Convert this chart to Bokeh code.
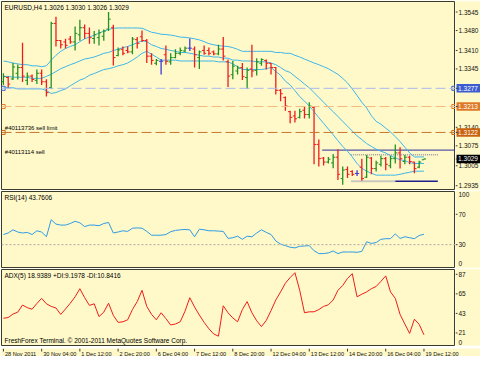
from bokeh.plotting import figure
from bokeh.layouts import column, row
from bokeh.models import ColumnDataSource, Range1d, Span, Label
from bokeh.core.properties import value
from bokeh.embed import file_html
from bokeh.resources import INLINE

# ---------------- data ----------------
TITLE_MAIN = "EURUSD,H4  1.3026 1.3030 1.3026 1.3029"
TITLE_RSI = "RSI(14) 43.7606"
TITLE_ADX = "ADX(5) 18.9389 +DI:9.1978 -DI:10.8416"
COPYRIGHT = "FreshForex Terminal. \u00a9 2001-2011 MetaQuotes Software Corp."

OPEN = [1.3300, 1.3315, 1.3310, 1.3330, 1.3350, 1.3305, 1.3320, 1.3305, 1.3330, 1.3300,
        1.3280, 1.3505, 1.3445, 1.3440, 1.3450, 1.3440, 1.3465, 1.3490, 1.3470, 1.3452,
        1.3455, 1.3460, 1.3485, 1.3490, 1.3392, 1.3414, 1.3410, 1.3405, 1.3448, 1.3458,
        1.3445, 1.3390, 1.3365, 1.3372, 1.3395, 1.3370, 1.3385, 1.3400, 1.3408, 1.3418,
        1.3415, 1.3385, 1.3410, 1.3410, 1.3405, 1.3398, 1.3415, 1.3370, 1.3325, 1.3338,
        1.3350, 1.3315, 1.3345, 1.3340, 1.3365, 1.3375, 1.3365, 1.3350, 1.3270, 1.3245,
        1.3195, 1.3180, 1.3175, 1.3200, 1.3185, 1.3210, 1.3080, 1.3032, 1.3018, 1.3015,
        1.3035, 1.2960, 1.2992, 1.2985, 1.2978, 1.3000, 1.2965, 1.3032, 1.2995, 1.3010,
        1.3030, 1.3005, 1.3030, 1.3050, 1.3020, 1.3035, 1.3018, 1.3000, 1.3026]
HIGH = [1.3330, 1.3319, 1.3366, 1.3361, 1.3437, 1.3333, 1.3326, 1.3343, 1.3343, 1.3309,
        1.3511, 1.3528, 1.3447, 1.3451, 1.3461, 1.3494, 1.3518, 1.3501, 1.3491, 1.3478,
        1.3484, 1.3484, 1.3545, 1.3500, 1.3420, 1.3424, 1.3424, 1.3457, 1.3457, 1.3480,
        1.3450, 1.3400, 1.3380, 1.3380, 1.3427, 1.3400, 1.3414, 1.3420, 1.3424, 1.3452,
        1.3424, 1.3410, 1.3427, 1.3420, 1.3410, 1.3430, 1.3457, 1.3378, 1.3373, 1.3356,
        1.3366, 1.3350, 1.3430, 1.3383, 1.3383, 1.3378, 1.3366, 1.3352, 1.3275, 1.3248,
        1.3198, 1.3198, 1.3205, 1.3215, 1.3228, 1.3215, 1.3097, 1.3036, 1.3036, 1.3046,
        1.3063, 1.3002, 1.3002, 1.2989, 1.2989, 1.3030, 1.3043, 1.3036, 1.3023, 1.3040,
        1.3036, 1.3040, 1.3080, 1.3070, 1.3043, 1.3040, 1.3019, 1.3023, 1.3030]
LOW = [1.3289, 1.3279, 1.3306, 1.3308, 1.3299, 1.3289, 1.3299, 1.3292, 1.3289, 1.3248,
       1.3275, 1.3424, 1.3417, 1.3417, 1.3434, 1.3410, 1.3444, 1.3451, 1.3434, 1.3434,
       1.3427, 1.3444, 1.3478, 1.3357, 1.3390, 1.3393, 1.3400, 1.3397, 1.3417, 1.3440,
       1.3366, 1.3360, 1.3358, 1.3326, 1.3360, 1.3360, 1.3383, 1.3393, 1.3404, 1.3408,
       1.3350, 1.3345, 1.3395, 1.3393, 1.3393, 1.3393, 1.3375, 1.3282, 1.3309, 1.3326,
       1.3306, 1.3275, 1.3316, 1.3322, 1.3356, 1.3343, 1.3326, 1.3255, 1.3232, 1.3198,
       1.3154, 1.3157, 1.3171, 1.3171, 1.3171, 1.3010, 1.3002, 1.3006, 1.3013, 1.2996,
       1.2955, 1.2938, 1.2962, 1.2969, 1.2969, 1.2952, 1.2962, 1.2975, 1.2985, 1.3002,
       1.2989, 1.2996, 1.3013, 1.2995, 1.3010, 1.3010, 1.2979, 1.2996, 1.3026]
CLOSE = [1.3318, 1.3292, 1.3352, 1.3350, 1.3320, 1.3320, 1.3308, 1.3330, 1.3300, 1.3262,
         1.3505, 1.3445, 1.3430, 1.3428, 1.3440, 1.3470, 1.3490, 1.3470, 1.3455, 1.3465,
         1.3472, 1.3478, 1.3520, 1.3385, 1.3412, 1.3400, 1.3405, 1.3450, 1.3435, 1.3445,
         1.3390, 1.3375, 1.3375, 1.3372, 1.3372, 1.3385, 1.3400, 1.3410, 1.3418, 1.3418,
         1.3395, 1.3405, 1.3400, 1.3400, 1.3398, 1.3415, 1.3390, 1.3320, 1.3355, 1.3348,
         1.3318, 1.3340, 1.3338, 1.3370, 1.3378, 1.3365, 1.3350, 1.3270, 1.3258, 1.3215,
         1.3175, 1.3170, 1.3195, 1.3185, 1.3215, 1.3080, 1.3030, 1.3018, 1.3028, 1.3035,
         1.2975, 1.2990, 1.2975, 1.2975, 1.2978, 1.2960, 1.3035, 1.2995, 1.3015, 1.3030,
         1.3010, 1.3030, 1.3050, 1.3030, 1.3035, 1.3020, 1.2995, 1.3018, 1.3029]

BB_UPPER = [1.3373, 1.3370, 1.3366, 1.3363, 1.3360, 1.3360, 1.3356, 1.3356, 1.3353, 1.3356,
            1.3376, 1.3393, 1.3407, 1.3417, 1.3424, 1.3430, 1.3441, 1.3451, 1.3457, 1.3464,
            1.3471, 1.3478, 1.3484, 1.3488, 1.3489, 1.3489, 1.3489, 1.3489, 1.3489, 1.3488,
            1.3481, 1.3474, 1.3471, 1.3467, 1.3466, 1.3464, 1.3461, 1.3457, 1.3456, 1.3454,
            1.3451, 1.3447, 1.3441, 1.3434, 1.3430, 1.3427, 1.3425, 1.3424, 1.3420, 1.3414,
            1.3407, 1.3407, 1.3407, 1.3407, 1.3407, 1.3407, 1.3407, 1.3403, 1.3403, 1.3400,
            1.3400, 1.3393, 1.3387, 1.3380, 1.3373, 1.3366, 1.3360, 1.3353, 1.3346, 1.3336,
            1.3326, 1.3312, 1.3296, 1.3275, 1.3252, 1.3228, 1.3208, 1.3181, 1.3161, 1.3151,
            1.3137, 1.3124, 1.3107, 1.3090, 1.3070, 1.3050, 1.3036, 1.3036, 1.3036]
BB_MIDDLE = [1.3319, 1.3319, 1.3316, 1.3316, 1.3316, 1.3316, 1.3312, 1.3312, 1.3312, 1.3319,
             1.3326, 1.3336, 1.3346, 1.3353, 1.3360, 1.3366, 1.3373, 1.3380, 1.3383, 1.3387,
             1.3393, 1.3400, 1.3403, 1.3410, 1.3414, 1.3420, 1.3424, 1.3430, 1.3437, 1.3444,
             1.3441, 1.3430, 1.3424, 1.3417, 1.3414, 1.3410, 1.3407, 1.3403, 1.3403, 1.3400,
             1.3397, 1.3393, 1.3390, 1.3390, 1.3387, 1.3387, 1.3383, 1.3383, 1.3376, 1.3376,
             1.3373, 1.3373, 1.3373, 1.3370, 1.3370, 1.3370, 1.3366, 1.3360, 1.3350, 1.3339,
             1.3333, 1.3319, 1.3306, 1.3292, 1.3279, 1.3262, 1.3245, 1.3228, 1.3211, 1.3195,
             1.3178, 1.3161, 1.3144, 1.3127, 1.3110, 1.3097, 1.3083, 1.3073, 1.3063, 1.3056,
             1.3050, 1.3040, 1.3033, 1.3026, 1.3023, 1.3016, 1.3013, 1.3013, 1.3013]
BB_LOWER = [1.3282, 1.3279, 1.3279, 1.3275, 1.3275, 1.3275, 1.3275, 1.3275, 1.3275, 1.3269,
            1.3259, 1.3262, 1.3269, 1.3275, 1.3286, 1.3296, 1.3306, 1.3312, 1.3323, 1.3329,
            1.3336, 1.3343, 1.3346, 1.3350, 1.3356, 1.3360, 1.3366, 1.3376, 1.3387, 1.3400,
            1.3407, 1.3397, 1.3387, 1.3376, 1.3376, 1.3376, 1.3376, 1.3373, 1.3373, 1.3373,
            1.3373, 1.3373, 1.3373, 1.3373, 1.3373, 1.3370, 1.3370, 1.3370, 1.3363, 1.3353,
            1.3343, 1.3343, 1.3343, 1.3343, 1.3343, 1.3346, 1.3350, 1.3336, 1.3323, 1.3302,
            1.3289, 1.3269, 1.3248, 1.3232, 1.3215, 1.3195, 1.3174, 1.3154, 1.3134, 1.3114,
            1.3093, 1.3073, 1.3056, 1.3036, 1.3013, 1.2996, 1.2986, 1.2979, 1.2972, 1.2972,
            1.2972, 1.2972, 1.2972, 1.2975, 1.2979, 1.2982, 1.2986, 1.2986, 1.2986]

RSI = [43.4, 45.4, 49.6, 46.7, 45.4, 46.2, 43.4, 48.3, 46.7, 40.4,
       62.9, 57.1, 55.8, 55.8, 57.9, 60.8, 58.8, 53.8, 55.8, 55.8,
       55.0, 57.9, 59.2, 45.4, 46.7, 48.3, 47.5, 51.7, 52.1, 51.7,
       47.5, 42.5, 42.5, 42.5, 43.4, 47.1, 48.8, 49.6, 50.0, 49.6,
       40.4, 50.4, 49.6, 48.3, 48.3, 47.9, 47.5, 38.3, 39.2, 41.2,
       37.1, 41.2, 40.4, 45.4, 49.6, 46.2, 43.4, 35.0, 30.8, 28.8,
       26.7, 25.8, 27.9, 28.3, 28.8, 22.1, 18.3, 18.3, 19.2, 21.7,
       18.3, 20.4, 20.4, 20.4, 20.0, 21.2, 33.8, 31.7, 32.9, 37.1,
       37.9, 37.9, 44.2, 38.3, 40.4, 39.2, 37.9, 42.1, 43.76]
ADX = [37.6, 38.3, 42.3, 44.4, 52.4, 49.5, 47.7, 54.2, 59.9, 53.8,
       50.9, 49.1, 41.9, 48.0, 54.5, 61.7, 70.8, 60.7, 52.0, 53.8,
       39.4, 44.4, 54.5, 40.8, 32.9, 33.6, 35.8, 47.3, 56.3, 69.0,
       50.9, 41.9, 35.8, 43.7, 37.2, 30.0, 31.1, 33.6, 45.5, 60.7,
       50.2, 41.2, 32.9, 25.7, 19.9, 17.4, 51.6, 43.7, 37.9, 33.6,
       47.3, 56.3, 43.7, 34.7, 28.2, 35.1, 46.2, 58.1, 67.2, 76.9,
       83.4, 88.8, 69.0, 43.7, 44.8, 44.8, 47.3, 50.9, 52.7, 58.1,
       69.0, 74.4, 82.3, 87.7, 61.7, 64.6, 67.2, 70.8, 73.3, 79.1,
       85.2, 67.2, 59.9, 41.9, 31.1, 20.5, 36.5, 30.7, 18.94]

TICK_IDX = [0, 8, 16, 24, 32, 40, 48, 56, 64, 72, 80, 88]
TICK_LABELS = ["28 Nov 2011", "30 Nov 04:00", "1 Dec 12:00", "2 Dec 20:00", "6 Dec 04:00",
               "7 Dec 12:00", "8 Dec 20:00", "12 Dec 04:00", "13 Dec 12:00", "14 Dec 20:00",
               "16 Dec 04:00", "19 Dec 12:00"]
PRICE_TICKS = [1.2935, 1.3005, 1.3075, 1.3140, 1.3345, 1.3410, 1.3480, 1.3545]
RSI_TICKS = [30, 70]
RSI_EDGE_LABELS = ["100", "0"]
ADX_TICKS = [21, 43, 65, 87]
ADX_EDGE_LABELS = ["0"]

# order / object levels
LEVEL_PRICES = [1.3277, 1.3213, 1.3122]
LEVEL_LINE_COLORS = ["#A9B9EE", "#F3B97E", "#C9742E"]
LEVEL_BOX_COLORS = ["#3A5CCF", "#DE7A26", "#C8620E"]
LAST_PRICE = 1.3029
ORDER_TEXTS = ["#40113736 sell limit", "#40113114 sell"]
ORDER_TEXT_PRICES = [1.3127, 1.3042]
TREND_LEVEL, TREND_FROM = 1.3060, 66.7
BOX_FROM, BOX_SPLIT, BOX_TO = 72.7, 82.0, 90.9
BOX_TOP, BOX_BOTTOM = 1.3044, 1.2951

# ---------------- style ----------------
BG = "#FFF9C9"
FRAME = "#3b3b2e"
FONT = "Liberation Sans"
FS = "6.5px"
FS_TIME = "5.6px"
W = 480
PW = 455          # pane width (1px left border + 454 frame)
SW = W - PW       # right scale strip width
UP, DOWN, DOJI = "#23911F", "#EE1C1C", "#3A3AD8"
BAND = "#3DB6EA"

N = len(CLOSE)
IDX = list(range(N))
X0, X1 = -0.4, 94.6
xr = Range1d(X0, X1)


def base(width, height, xrange, yrange, left=0, top=1, bottom=1):
    p = figure(width=width, height=height, x_range=xrange, y_range=yrange,
               output_backend="svg", toolbar_location=None,
               x_axis_location=None, y_axis_location=None,
               min_border_left=left, min_border_right=0,
               min_border_top=top, min_border_bottom=bottom)
    p.background_fill_color = BG
    p.border_fill_color = BG
    p.grid.visible = False
    return p


def pane(h, yr, bottom=1):
    p = base(PW, h, xr, yr, left=1, top=1, bottom=bottom)
    p.outline_line_color = FRAME
    p.outline_line_width = 1
    return p


def scale_text(s, ys, labels, color="#111111", x=3):
    s.text(x=[x] * len(ys), y=ys, text=labels, text_font=value(FONT),
           text_font_size=value(FS), text_color=color, text_baseline="middle",
           text_align="left")


def strip(h, yr, ticks, labels, bottom=1):
    s = base(SW, h, Range1d(0, SW), yr, top=1, bottom=bottom)
    s.outline_line_color = None
    s.segment(x0=[0] * len(ticks), y0=ticks, x1=[2] * len(ticks), y1=ticks,
              line_color=FRAME, line_width=1)
    scale_text(s, ticks, labels)
    return s


def corner_text(p, fh, text, y=None, baseline="top"):
    p.add_layout(Label(x=3, y=(fh - 2) if y is None else y, x_units="screen", y_units="screen",
                       text=text, text_font=FONT, text_font_size=FS, text_color="#000000",
                       text_baseline=baseline, text_align="left"))


# ---------------- main price pane ----------------
H1, FH1 = 190, 188
yr1 = Range1d(1.29216, 1.35820)
p1 = pane(H1, yr1)

for lv, col in zip(LEVEL_PRICES, LEVEL_LINE_COLORS):
    p1.add_layout(Span(location=lv, dimension="width", line_color=col, line_width=1,
                       line_dash="10 4"))
p1.scatter(x=[X0 + 0.35] * 3, y=LEVEL_PRICES, marker="square", size=4,
           fill_color=None, line_color=LEVEL_BOX_COLORS, line_width=1)
p1.scatter(x=[X1 - 0.35] * 3, y=LEVEL_PRICES, marker="square", size=4,
           fill_color=None, line_color=LEVEL_BOX_COLORS, line_width=1)

p1.segment(x0=[TREND_FROM], y0=[TREND_LEVEL], x1=[X1], y1=[TREND_LEVEL],
           line_color="#2E2E9E", line_width=1)
p1.segment(x0=[BOX_FROM], y0=[BOX_TOP], x1=[BOX_TO], y1=[BOX_TOP],
           line_color="#9C9C9C", line_width=1.5, line_dash="1 1")
p1.segment(x0=[BOX_FROM], y0=[BOX_BOTTOM], x1=[BOX_SPLIT], y1=[BOX_BOTTOM],
           line_color="#C8C8C0", line_width=2)
p1.segment(x0=[BOX_SPLIT], y0=[BOX_BOTTOM], x1=[BOX_TO], y1=[BOX_BOTTOM],
           line_color="#1E1E8C", line_width=1.5)

for band in (BB_UPPER, BB_MIDDLE, BB_LOWER):
    p1.line(IDX, band, line_color=BAND, line_width=1)

colors = [UP if c > o else (DOWN if c < o else DOJI) for o, c in zip(OPEN, CLOSE)]
src = ColumnDataSource(dict(x=IDX, o=OPEN, h=HIGH, l=LOW, c=CLOSE, col=colors,
                            xl=[i - 0.45 for i in IDX], xr=[i + 0.45 for i in IDX]))
p1.segment(x0="x", y0="l", x1="x", y1="h", line_color="col", line_width=1.3, source=src)
p1.segment(x0="xl", y0="o", x1="x", y1="o", line_color="col", line_width=1, source=src)
p1.segment(x0="x", y0="c", x1="xr", y1="c", line_color="col", line_width=1, source=src)

corner_text(p1, FH1, TITLE_MAIN)
for t, yv in zip(ORDER_TEXTS, ORDER_TEXT_PRICES):
    p1.add_layout(Label(x=0.3, y=yv, text=t, text_font=FONT, text_font_size="6px",
                        text_color="#000000", text_baseline="bottom", text_align="left"))

s1 = strip(H1, yr1, PRICE_TICKS, ["%.4f" % v for v in PRICE_TICKS])
box_prices = LEVEL_PRICES + [LAST_PRICE]
box_colors = LEVEL_BOX_COLORS + ["#000000"]
s1.rect(x=[12.8] * 4, y=box_prices, width=23.5, height=8.5, height_units="screen",
        fill_color=box_colors, line_color=None)
s1.segment(x0=[0] * 4, y0=box_prices, x1=[2] * 4, y1=box_prices, line_color=FRAME)
scale_text(s1, box_prices, ["%.4f" % v for v in box_prices], color="#FFFFFF", x=2.6)

# ---------------- RSI pane ----------------
H2, FH2 = 78, 76
yr2 = Range1d(0, 100)
p2 = pane(H2, yr2)
p2.add_layout(Span(location=30, dimension="width", line_color="#A8A8A0", line_width=1,
                   line_dash="2 2"))
p2.line(IDX, RSI, line_color="#2E9BE6", line_width=1)
corner_text(p2, FH2, TITLE_RSI)
s2 = strip(H2, yr2, RSI_TICKS, [str(v) for v in RSI_TICKS])
scale_text(s2, [96, 5], RSI_EDGE_LABELS)

# ---------------- ADX pane ----------------
H3, FH3 = 78, 76
yr3 = Range1d(6.9, 92.4)
p3 = pane(H3, yr3)
p3.line(IDX, ADX, line_color="#F01C1C", line_width=1)
corner_text(p3, FH3, TITLE_ADX)
corner_text(p3, FH3, COPYRIGHT, y=2, baseline="bottom")
s3 = strip(H3, yr3, ADX_TICKS, [str(v) for v in ADX_TICKS])
scale_text(s3, [10.0], ADX_EDGE_LABELS)

# ---------------- time scale strip (same bar scale, full width) ----------------
HX = 10
xs_end = X0 + (X1 - X0) * (W - 1) / (PW - 1)
xs = base(W, HX, Range1d(X0, xs_end), Range1d(0, HX), left=1, top=0, bottom=0)
xs.outline_line_color = None
xs.segment(x0=TICK_IDX, y0=[HX] * len(TICK_IDX), x1=TICK_IDX, y1=[HX - 3] * len(TICK_IDX),
           line_color=FRAME, line_width=1)
xs.text(x=TICK_IDX, y=[4.5] * len(TICK_IDX), text=TICK_LABELS, x_offset=1.5,
        text_font=value(FONT), text_font_size=value(FS_TIME), text_color="#111111",
        text_baseline="middle", text_align="left")

layout = column(row(p1, s1, spacing=0), row(p2, s2, spacing=0), row(p3, s3, spacing=0),
                xs, spacing=0)
open("out.html", "w").write(file_html(layout, INLINE))
